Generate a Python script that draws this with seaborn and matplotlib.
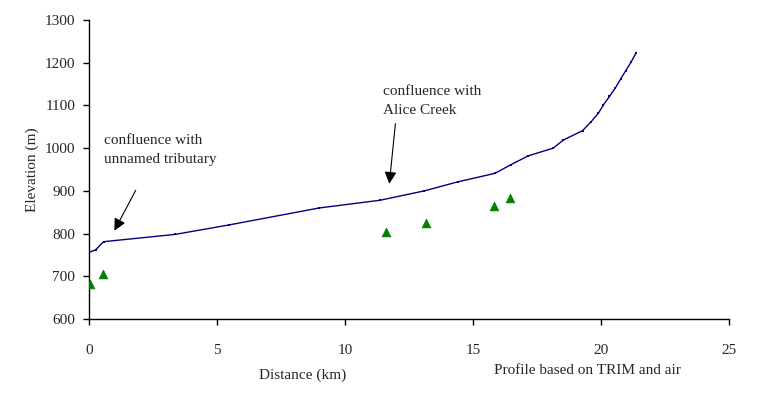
import matplotlib
matplotlib.use("Agg")
import matplotlib.pyplot as plt
import seaborn as sns
import pandas as pd

# profile along the creek (distance km, elevation m)
profile_km = [0.0, 0.26, 0.57, 3.36, 5.45, 9.0, 11.37, 13.1, 14.4, 15.86, 16.47, 17.16,
              18.13, 18.53, 19.28, 19.6, 19.9, 20.09, 20.33, 20.56, 20.77, 20.96, 21.18, 21.36]
profile_m = [756, 762, 781, 798, 820, 860, 878, 900, 921, 941, 961, 982,
             1000, 1019, 1041, 1061, 1082, 1101, 1121, 1141, 1162, 1181, 1202, 1222]

# triangle points
tri_km = [0.04, 0.56, 11.6, 13.18, 15.82, 16.43]
tri_m = [682, 705, 803, 824, 864, 883]

x_ticks = [0, 5, 10, 15, 20, 25]
y_ticks = [600, 700, 800, 900, 1000, 1100, 1200, 1300]

sns.set_style("ticks")
plt.rcParams['font.family'] = ['Liberation Serif', 'DejaVu Serif']

prof = pd.DataFrame({'km': profile_km, 'm': profile_m})
tri = pd.DataFrame({'km': tri_km, 'm': tri_m})

fig = plt.figure(figsize=(7.62, 3.94), dpi=100)
ax = fig.add_axes([0.1168, 0.1904, 0.8399, 0.7588])

sns.lineplot(data=prof, x='km', y='m', ax=ax, color='#000080', linewidth=1,
             marker='s', markersize=1.8, markeredgewidth=0, sort=False)
sns.scatterplot(data=tri, x='km', y='m', ax=ax, color='#008000', marker='^',
                s=40, edgecolor='#008000', linewidth=0.5, zorder=3)

ax.set_xlim(0, 25)
ax.set_ylim(600, 1300)
ax.set_xticks(x_ticks)
ax.set_yticks(y_ticks)
ax.tick_params(axis='both', labelsize=11, length=4, width=1, color='black')
ax.tick_params(axis='x', pad=14)
ax.tick_params(axis='y', pad=6)
for s in ['left', 'bottom']:
    ax.spines[s].set_color('black')
    ax.spines[s].set_linewidth(1)
sns.despine(ax=ax)

ax.set_xlabel('')
ax.set_ylabel('Elevation (m)', fontsize=11, labelpad=4)
fig.text(303 / 762, 1 - 375 / 394, 'Distance (km)', fontsize=11, ha='center', va='center')
fig.text(587 / 762, 1 - 370 / 394, 'Profile based on TRIM and air', fontsize=11,
         ha='center', va='center')

# arrows
ax.annotate('', xy=(0.94, 801), xytext=(1.875, 907),
            arrowprops=dict(arrowstyle='-|>', color='black', lw=0.8, mutation_scale=18))
ax.annotate('', xy=(11.72, 910), xytext=(11.98, 1064),
            arrowprops=dict(arrowstyle='-|>', color='black', lw=0.8, mutation_scale=18))

ax.text(0.59, 1033, 'confluence with\nunnamed tributary', fontsize=11, ha='left',
        va='top', linespacing=1.6)
ax.text(11.48, 1148, 'confluence with\nAlice Creek', fontsize=11, ha='left', va='top',
        linespacing=1.6)

fig.savefig('out.png', dpi=100)
